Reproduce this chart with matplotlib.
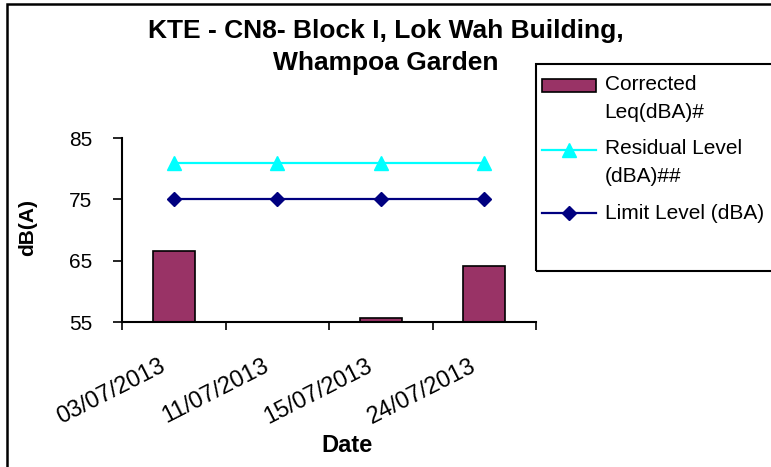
import matplotlib
matplotlib.use("Agg")
import matplotlib.pyplot as plt
import numpy as np
from matplotlib.patches import Rectangle
from matplotlib.transforms import Affine2D, ScaledTranslation
from matplotlib.legend_handler import HandlerLine2D, HandlerPatch

plt.rcParams['font.family'] = ['Liberation Sans', 'DejaVu Sans']

# measurement dates and levels
dates = ['03/07/2013', '11/07/2013', '15/07/2013', '24/07/2013']
corrected_leq = [66.5, np.nan, 55.7, 64.2]
residual_level = [81, 81, 81, 81]
limit_level = [75, 75, 75, 75]


# legend handlers that lift the key up to the first line of a two-line label
class LiftLine(HandlerLine2D):
    def __init__(self, dy=0, **kw):
        super().__init__(**kw)
        self.dy = dy

    def create_artists(self, legend, orig_handle, xdescent, ydescent, width, height, fontsize, trans):
        return super().create_artists(legend, orig_handle, xdescent, ydescent, width, height,
                                      fontsize, Affine2D().translate(0, self.dy) + trans)


class LiftPatch(HandlerPatch):
    def __init__(self, dy=0, **kw):
        super().__init__(**kw)
        self.dy = dy

    def create_artists(self, legend, orig_handle, xdescent, ydescent, width, height, fontsize, trans):
        return super().create_artists(legend, orig_handle, xdescent, ydescent, width, height,
                                      fontsize, Affine2D().translate(0, self.dy) + trans)


fig = plt.figure(figsize=(7.71, 4.67), dpi=100)
ax = fig.add_axes([122/771, 1-322/467, 414/771, 184/467])

x = np.arange(len(dates))
bars = ax.bar(x, corrected_leq, width=0.41, bottom=0, color='#993366',
              edgecolor='black', linewidth=1.2, zorder=2)
res, = ax.plot(x, residual_level, color='#00FFFF', lw=1.6, marker='^', markersize=10, zorder=3)
lim, = ax.plot(x, limit_level, color='#000080', lw=1.6, marker='D', markersize=7, zorder=3)

ax.set_xlim(-0.5, len(dates) - 0.5)
ax.set_ylim(55, 85)
ax.set_yticks([55, 65, 75, 85])
ax.tick_params(axis='y', direction='out', length=6.5, width=1.2, labelsize=15, pad=15)

# ticks sit on the category boundaries, labels on the centres
ax.set_xticks(x)
ax.set_xticklabels(dates, rotation=27, ha='right', va='top', rotation_mode='anchor', fontsize=17)
ax.set_xticks(np.arange(len(dates) + 1) - 0.5, minor=True)
ax.tick_params(axis='x', which='major', length=0, pad=24)
ax.tick_params(axis='x', which='minor', direction='out', length=6, width=1.2)
for lab in ax.get_xticklabels():
    lab.set_transform(lab.get_transform() + ScaledTranslation(-0.15, 0, fig.dpi_scale_trans))

for s in ['top', 'right']:
    ax.spines[s].set_visible(False)
for s in ['left', 'bottom']:
    ax.spines[s].set_linewidth(1.5)

ax.set_xlabel('Date', fontsize=17, fontweight='bold', va='center')
ax.xaxis.set_label_coords(0.543, -0.672)
ax.set_ylabel('dB(A)', fontsize=15, fontweight='bold', va='center')
ax.yaxis.set_label_coords(-0.229, 0.516)

fig.text(386/771, 1-47/467, 'KTE - CN8- Block I, Lok Wah Building,\nWhampoa Garden',
         ha='center', va='center', fontsize=19, fontweight='bold', linespacing=1.45)

# legend frame
fig.patches.append(Rectangle((536/771, 1-271/467), 1.0, 207/467, transform=fig.transFigure,
                             fill=False, edgecolor='black', linewidth=1.5))
bar_key = bars.patches[0]
leg = ax.legend([bar_key, res, lim], ['Corrected\nLeq(dBA)#', 'Residual Level\n(dBA)##', 'Limit Level (dBA)'],
                handler_map={bar_key: LiftPatch(dy=9.5), res: LiftLine(dy=10), lim: LiftLine(dy=-1)},
                loc='upper left', bbox_to_anchor=(538/771, 1-71/467), bbox_transform=fig.transFigure,
                frameon=False, fontsize=15, handlelength=2.6, handleheight=0.55,
                handletextpad=0.4, labelspacing=0.83, borderaxespad=0, borderpad=0.2)
for t in leg.get_texts():
    t.set_linespacing(1.6)

# chart border
fig.patches.append(Rectangle((7/771, -0.1), 1.2, 1.1-4/467, transform=fig.transFigure,
                             fill=False, edgecolor='black', linewidth=1.8))

fig.savefig('out.png', dpi=100)
